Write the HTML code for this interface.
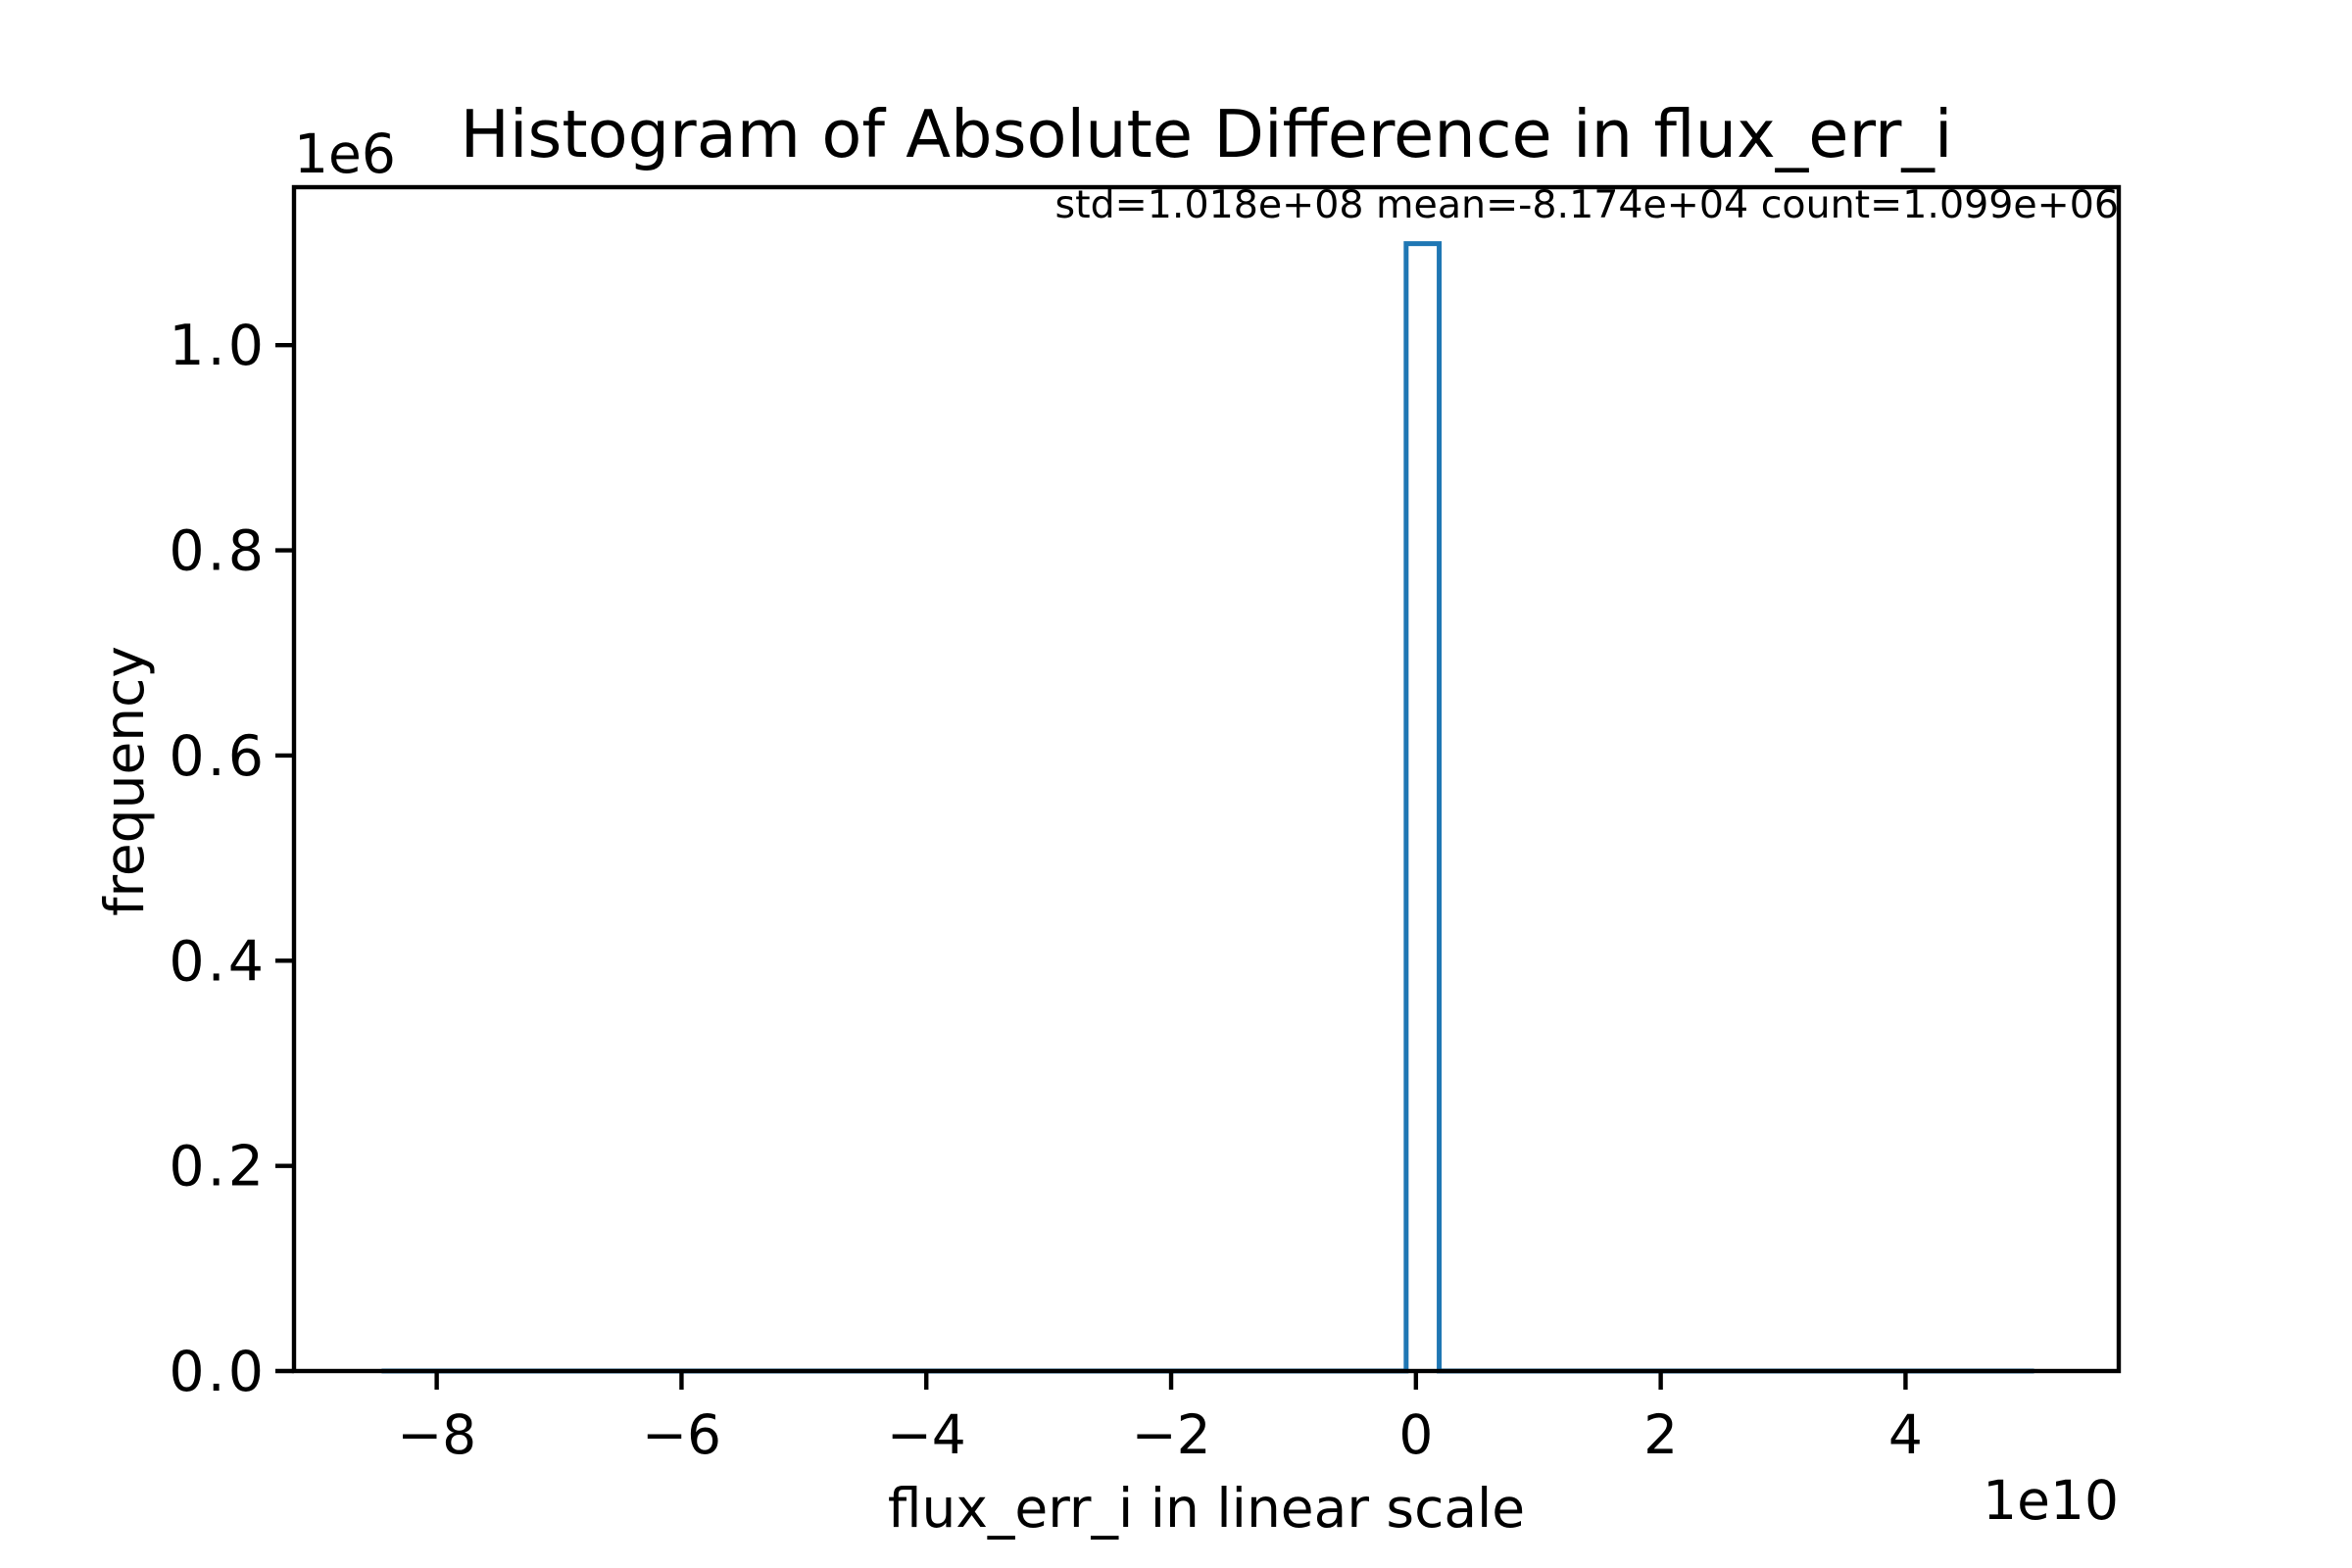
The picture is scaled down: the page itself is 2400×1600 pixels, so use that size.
<!DOCTYPE html>
<html><head><meta charset="utf-8"><style>
html,body{margin:0;padding:0;background:#fff}
svg{display:block;font-family:"DejaVu Sans","Liberation Sans",sans-serif}
</style></head><body>
<svg id="chart" width="2400" height="1600" viewBox="0 0 2400 1600">
<rect x="0" y="0" width="2400" height="1600" fill="#fff"/>
<g id="marks"></g>
<g id="axes"></g>
<text x="1231" y="160" text-anchor="middle" font-size="67">Histogram of Absolute Difference in flux_err_i</text>
<text x="300" y="176" font-size="55">1e6</text>
<text x="2162" y="222" text-anchor="end" font-size="39.5">std=1.018e+08 mean=-8.174e+04 count=1.099e+06</text>
<text x="1231" y="1558" text-anchor="middle" font-size="55">flux_err_i in linear scale</text>
<text x="2162" y="1550" text-anchor="end" font-size="55">1e10</text>
<text transform="translate(146,797) rotate(-90)" text-anchor="middle" font-size="55">frequency</text>
</svg>
<script>
const binStart = -8.45;
const binWidth = 0.27;
const counts = [0,0,0,0,0,0,0,0,0,0,0,0,0,0,0,0,0,0,0,0,0,0,0,0,0,0,0,0,0,0,0,1099000,0,0,0,0,0,0,0,0,0,0,0,0,0,0,0,0,0,0];
const xTicks = [-8,-6,-4,-2,0,2,4];
const xTickLabels = ["\u22128","\u22126","\u22124","\u22122","0","2","4"];
const yTicks = [0,200000,400000,600000,800000,1000000];
const yTickLabels = ["0.0","0.2","0.4","0.6","0.8","1.0"];

const L=300,R=2162,T=191,B=1399;
const xMin=-9.166,xMax=5.742,yMin=0,yMax=1154000;
function xs(v){return L+(v-xMin)/(xMax-xMin)*(R-L);}
function ys(v){return B-(v-yMin)/(yMax-yMin)*(B-T);}
const NS="http://www.w3.org/2000/svg";
const marks=document.getElementById('marks');
const axes=document.getElementById('axes');

let d="M"+xs(binStart)+","+ys(0);
for(let i=0;i<counts.length;i++){
  const x0=xs(binStart+i*binWidth),x1=xs(binStart+(i+1)*binWidth),y=ys(counts[i]);
  d+=" L"+x0+","+y+" L"+x1+","+y;
}
d+=" L"+xs(binStart+counts.length*binWidth)+","+ys(0);
const p=document.createElementNS(NS,'path');
p.setAttribute('d',d);p.setAttribute('fill','none');p.setAttribute('stroke','#1f77b4');p.setAttribute('stroke-width','5');


marks.appendChild(p);

const frame=document.createElementNS(NS,'rect');
frame.setAttribute('x',L);frame.setAttribute('y',T);frame.setAttribute('width',R-L);frame.setAttribute('height',B-T);
frame.setAttribute('fill','none');frame.setAttribute('stroke','#000');frame.setAttribute('stroke-width','4.4');


axes.appendChild(frame);

xTicks.forEach((v,i)=>{
  const x=xs(v);
  const t=document.createElementNS(NS,'line');
  t.setAttribute('x1',x);t.setAttribute('x2',x);t.setAttribute('y1',B);t.setAttribute('y2',B+19);
  t.setAttribute('stroke','#000');t.setAttribute('stroke-width','4.4');
  
  
  axes.appendChild(t);
  const s=document.createElementNS(NS,'text');
  s.setAttribute('x',x);s.setAttribute('y',1483);s.setAttribute('text-anchor','middle');s.setAttribute('font-size','55');
  s.textContent=xTickLabels[i];
  
  
  axes.appendChild(s);
});
yTicks.forEach((v,i)=>{
  const y=ys(v);
  const t=document.createElementNS(NS,'line');
  t.setAttribute('x1',L-19);t.setAttribute('x2',L);t.setAttribute('y1',y);t.setAttribute('y2',y);
  t.setAttribute('stroke','#000');t.setAttribute('stroke-width','4.4');
  
  
  axes.appendChild(t);
  const s=document.createElementNS(NS,'text');
  s.setAttribute('x',L-28);s.setAttribute('y',y+20);s.setAttribute('text-anchor','end');s.setAttribute('font-size','57');
  s.setAttribute('letter-spacing','3');
  s.textContent=yTickLabels[i];
  
  
  axes.appendChild(s);
});
</script>
</body></html>
